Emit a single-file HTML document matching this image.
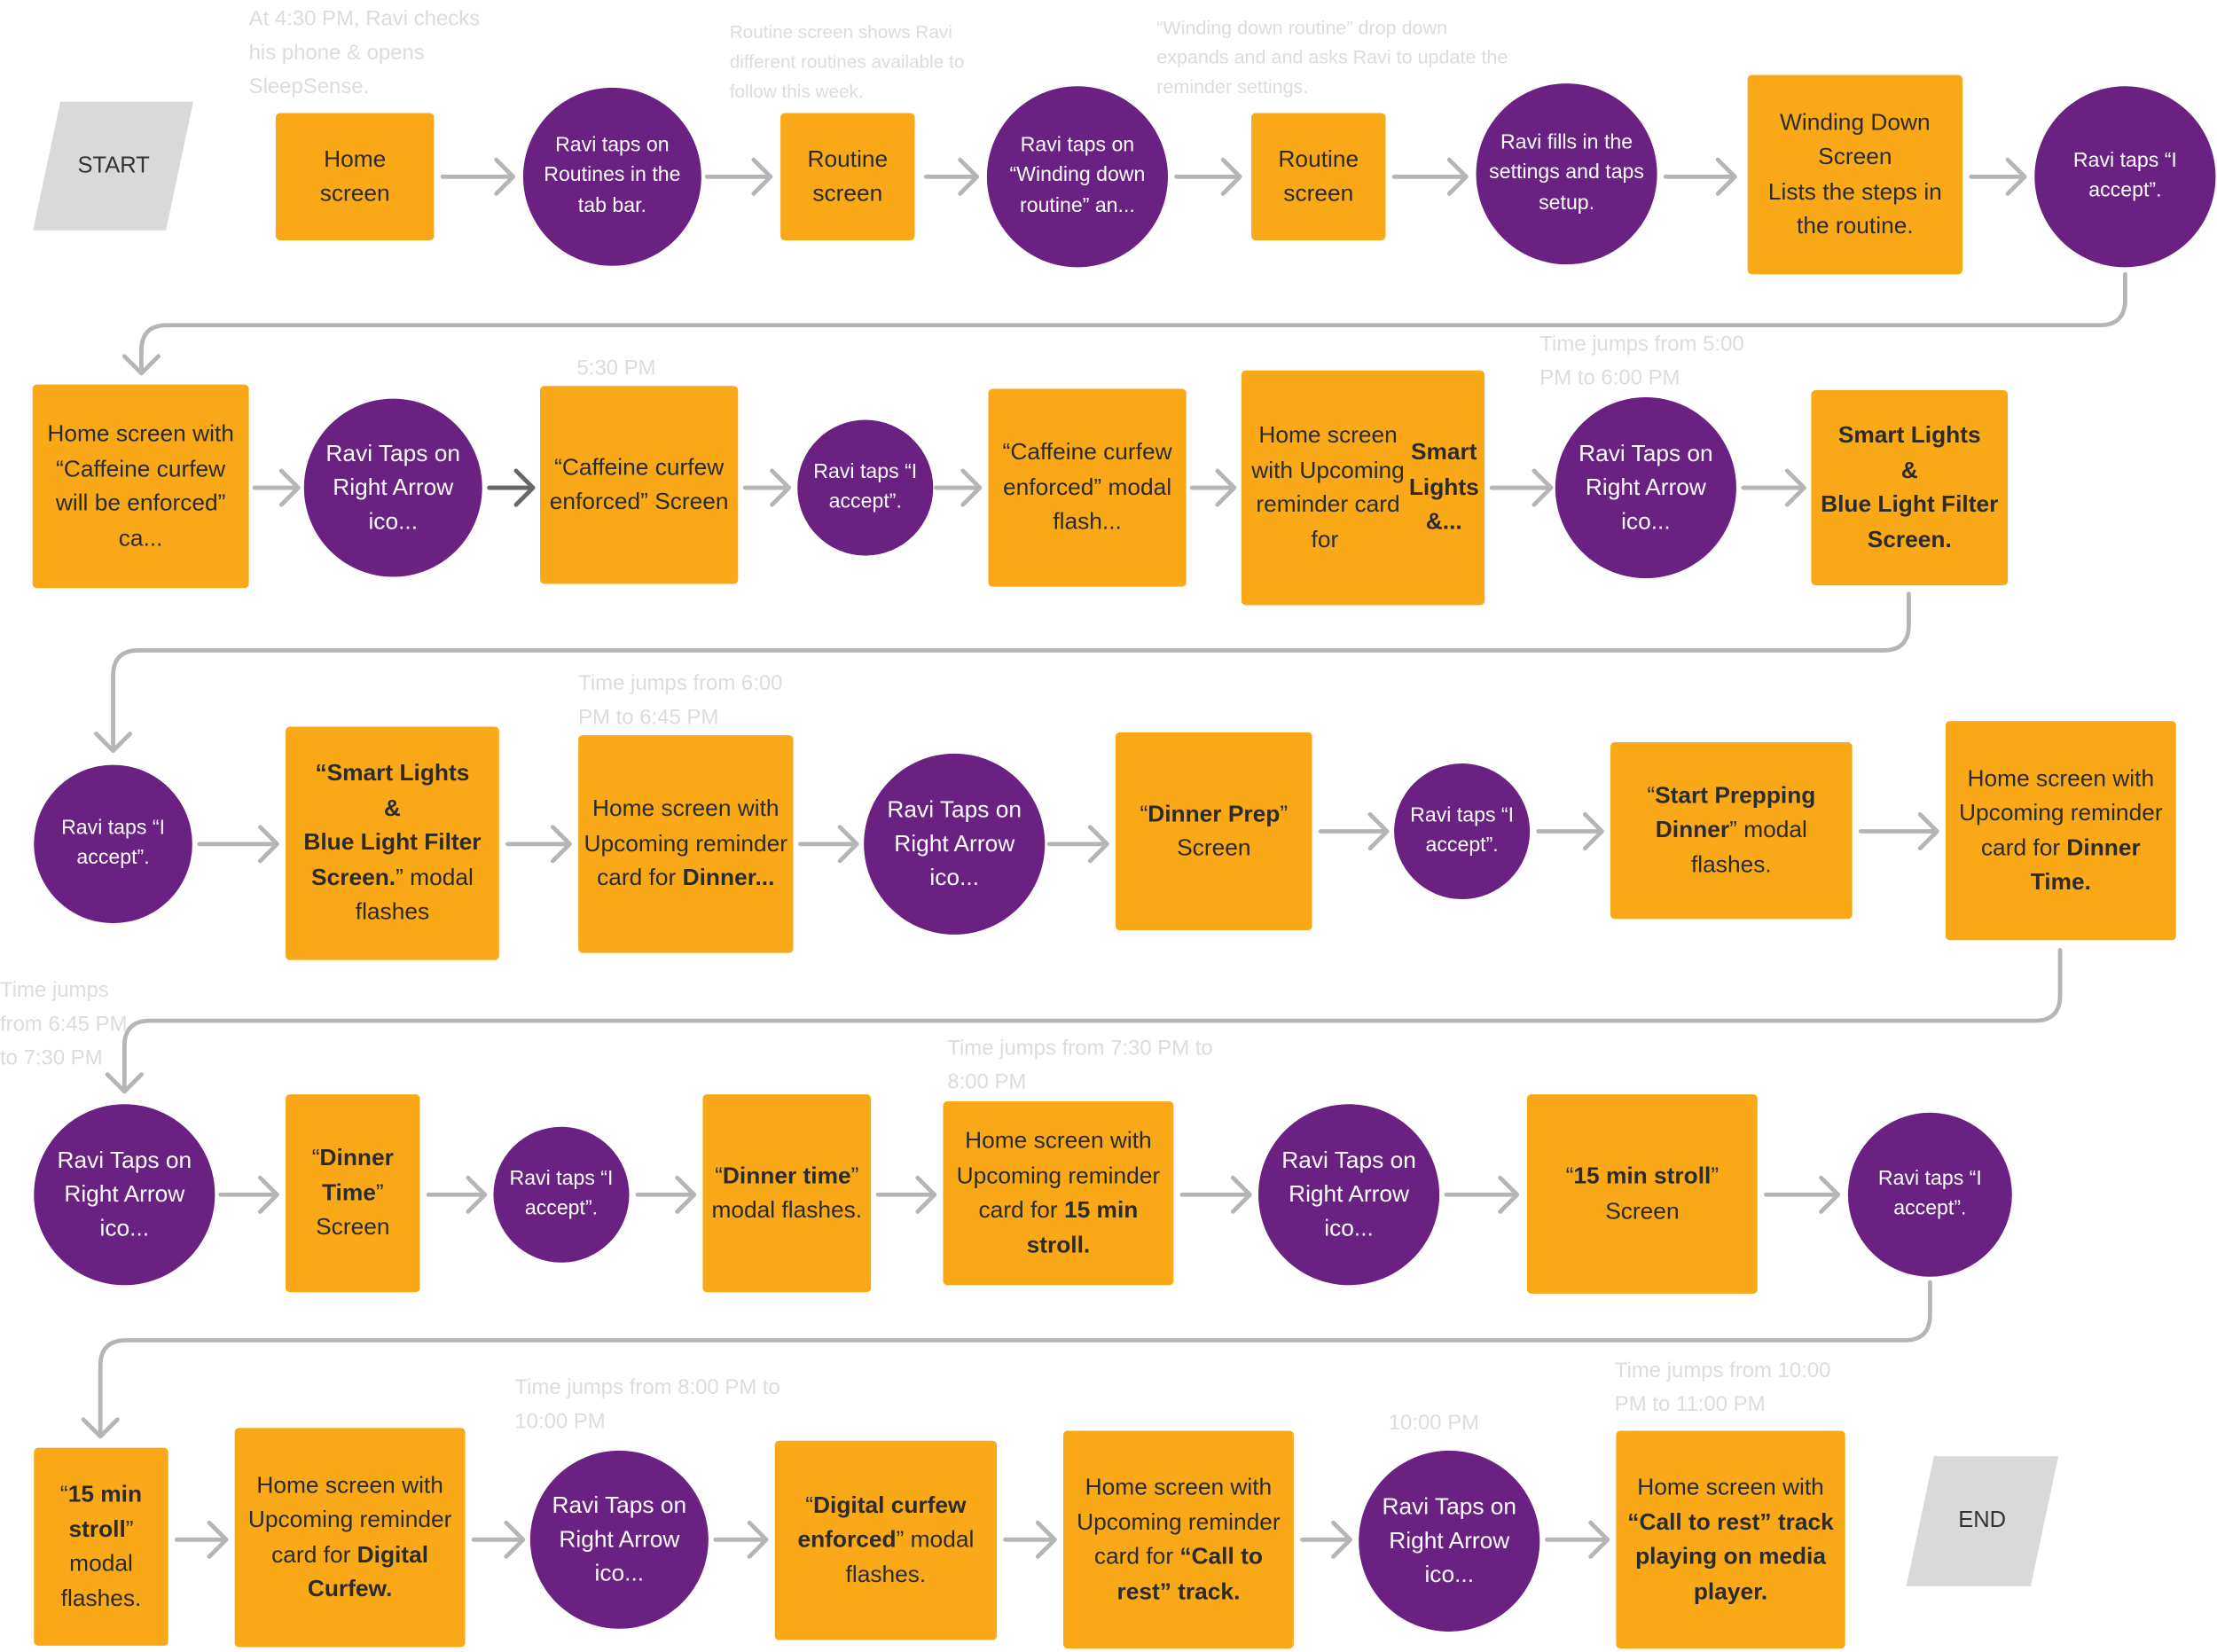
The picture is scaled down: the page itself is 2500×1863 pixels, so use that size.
<!DOCTYPE html>
<html><head><meta charset="utf-8"><style>
html,body{margin:0;padding:0;background:#fff;}
body{width:2500px;height:1863px;overflow:hidden;position:relative;}
#w{position:absolute;left:0;top:0;width:1568px;height:1168px;transform:scale(1.5944);transform-origin:0 0;font-family:"Liberation Sans",sans-serif;}
.r,.c,.p{position:absolute;display:flex;align-items:center;justify-content:center;text-align:center;box-sizing:border-box;}
.r{background:#F9A818;color:#2b2b2b;font-size:16.5px;line-height:24.5px;border-radius:3px;padding:4px;}
.c{background:#6A2181;color:#fff;border-radius:50%;font-size:16.5px;line-height:24px;padding:8px;}
.c.s{font-size:14.5px;line-height:21.5px;}
.p{background:#D9D9D9;color:#333;font-size:16px;transform:skewX(-12deg);}
.p span{transform:skewX(12deg);}
.a{position:absolute;color:#dcdcdc;font-size:15px;line-height:24px;}
svg{position:absolute;left:0;top:0;}
</style></head><body><div id="w">
<svg width="1568" height="1168" viewBox="0 0 1568 1168" fill="none" stroke="#B5B5B5" stroke-width="3" stroke-linecap="round" stroke-linejoin="round">
<g id="ar">
<!-- row1 -->
<path d="M313 125H363M351 113L363 125L351 137"/>
<path d="M500 125H545M533 113L545 125L533 137"/>
<path d="M655 125H691M679 113L691 125L679 137"/>
<path d="M832 125H877M865 113L877 125L865 137"/>
<path d="M986 125H1037M1025 113L1037 125L1025 137"/>
<path d="M1178 125H1227M1215 113L1227 125L1215 137"/>
<path d="M1394 125H1432M1420 113L1432 125L1420 137"/>
<path d="M1503 194V212Q1503 230 1485 230H118Q100 230 100 248V264M88 252L100 264L112 252"/>
<!-- row2 -->
<path d="M180 345H211M199 333L211 345L199 357"/>
<path d="M346 345H377M365 333L377 345L365 357" stroke="#666"/>
<path d="M527 345H558M546 333L558 345L546 357"/>
<path d="M662 345H693M681 333L693 345L681 357"/>
<path d="M843 345H873M861 333L873 345L861 357"/>
<path d="M1055 345H1097M1085 333L1097 345L1085 357"/>
<path d="M1233 345H1276M1264 333L1276 345L1264 357"/>
<path d="M1350 420V442Q1350 460 1332 460H98Q80 460 80 478V531M68 519L80 531L92 519"/>
<!-- row3 -->
<path d="M141 597H196M184 585L196 597L184 609"/>
<path d="M359 597H403M391 585L403 597L391 609"/>
<path d="M566 597H606M594 585L606 597L594 609"/>
<path d="M742 597H783M771 585L783 597L771 609"/>
<path d="M934 588H981M969 576L981 588L969 600"/>
<path d="M1088 588H1133M1121 576L1133 588L1121 600"/>
<path d="M1316 588H1370M1358 576L1370 588L1358 600"/>
<path d="M1457 672V704Q1457 722 1439 722H106Q88 722 88 740V772M76 760L88 772L100 760"/>
<!-- row4 -->
<path d="M156 845H196M184 833L196 845L184 857"/>
<path d="M303 845H343M331 833L343 845L331 857"/>
<path d="M451 845H491M479 833L491 845L479 857"/>
<path d="M621 845H661M649 833L661 845L649 857"/>
<path d="M836 845H884M872 833L884 845L872 857"/>
<path d="M1023 845H1073M1061 833L1073 845L1061 857"/>
<path d="M1249 845H1300M1288 833L1300 845L1288 857"/>
<path d="M1365 907V930Q1365 948 1347 948H89Q71 948 71 966V1016M59 1004L71 1016L83 1004"/>
<!-- row5 -->
<path d="M125 1089H160M148 1077L160 1089L148 1101"/>
<path d="M335 1089H370M358 1077L370 1089L358 1101"/>
<path d="M506 1089H542M530 1077L542 1089L530 1101"/>
<path d="M711 1089H746M734 1077L746 1089L734 1101"/>
<path d="M921 1089H955M943 1077L955 1089L943 1101"/>
<path d="M1094 1089H1137M1125 1077L1137 1089L1125 1101"/>
</g>
</svg>

<!-- annotations -->
<div class="a" style="left:176px;top:2px;width:170px">At 4:30 PM, Ravi checks his phone &amp; opens SleepSense.</div>
<div class="a" style="left:516px;top:12px;width:200px;font-size:13px;line-height:21px">Routine screen shows Ravi different routines available to follow this week.</div>
<div class="a" style="left:818px;top:9px;width:250px;font-size:13.5px;line-height:21px">“Winding down routine” drop down expands and and asks Ravi to update the reminder settings.</div>
<div class="a" style="left:408px;top:249px">5:30 PM</div>
<div class="a" style="left:1089px;top:232px;width:160px">Time jumps from 5:00 PM to 6:00 PM</div>
<div class="a" style="left:409px;top:472px;width:160px">Time jumps from 6:00 PM to 6:45 PM</div>
<div class="a" style="left:0px;top:689px;width:100px">Time jumps from 6:45 PM to 7:30 PM</div>
<div class="a" style="left:670px;top:730px;width:190px">Time jumps from 7:30 PM to 8:00 PM</div>
<div class="a" style="left:364px;top:970px;width:190px">Time jumps from 8:00 PM to 10:00 PM</div>
<div class="a" style="left:982px;top:995px">10:00 PM</div>
<div class="a" style="left:1142px;top:958px;width:170px">Time jumps from 10:00 PM to 11:00 PM</div>

<!-- row1 -->
<div class="p" style="left:33px;top:72px;width:94px;height:91px"><span>START</span></div>
<div class="r" style="left:195px;top:80px;width:112px;height:90px">Home<br>screen</div>
<div class="c s" style="left:370px;top:62px;width:126px;height:126px">Ravi taps on Routines in the tab bar.</div>
<div class="r" style="left:552px;top:80px;width:95px;height:90px">Routine<br>screen</div>
<div class="c s" style="left:698px;top:61px;width:128px;height:128px">Ravi taps on “Winding down routine” an...</div>
<div class="r" style="left:885px;top:80px;width:95px;height:90px">Routine<br>screen</div>
<div class="c s" style="left:1044px;top:59px;width:128px;height:128px">Ravi fills in the settings and taps setup.</div>
<div class="r" style="left:1236px;top:53px;width:152px;height:141px">Winding Down Screen<br>Lists the steps in the routine.</div>
<div class="c s" style="left:1439px;top:61px;width:128px;height:128px">Ravi taps “I accept”.</div>

<!-- row2 -->
<div class="r" style="left:23px;top:272px;width:153px;height:144px">Home screen with “Caffeine curfew will be enforced” ca...</div>
<div class="c" style="left:215px;top:282px;width:126px;height:126px">Ravi Taps on Right Arrow ico...</div>
<div class="r" style="left:382px;top:273px;width:140px;height:140px">“Caffeine curfew enforced” Screen</div>
<div class="c s" style="left:564px;top:297px;width:96px;height:96px;padding:4px">Ravi taps “I accept”.</div>
<div class="r" style="left:699px;top:275px;width:140px;height:140px">“Caffeine curfew enforced” modal flash...</div>
<div class="r" style="left:878px;top:262px;width:172px;height:166px">Home screen with Upcoming reminder card for&nbsp;<b>Smart Lights &amp;...</b></div>
<div class="c" style="left:1100px;top:281px;width:128px;height:128px">Ravi Taps on Right Arrow ico...</div>
<div class="r" style="left:1281px;top:276px;width:139px;height:138px"><b>Smart Lights<br>&amp;<br>Blue Light Filter Screen.</b></div>

<!-- row3 -->
<div class="c s" style="left:24px;top:541px;width:112px;height:112px">Ravi taps “I accept”.</div>
<div class="r" style="left:202px;top:514px;width:151px;height:165px"><span><b>“Smart Lights<br>&amp;<br>Blue Light Filter Screen.</b>” modal flashes</span></div>
<div class="r" style="left:409px;top:520px;width:152px;height:154px"><span>Home screen with Upcoming reminder card for <b>Dinner...</b></span></div>
<div class="c" style="left:611px;top:533px;width:128px;height:128px">Ravi Taps on Right Arrow ico...</div>
<div class="r" style="left:789px;top:518px;width:139px;height:140px"><span>“<b>Dinner Prep</b>” Screen</span></div>
<div class="c s" style="left:986px;top:540px;width:96px;height:96px;padding:4px">Ravi taps “I accept”.</div>
<div class="r" style="left:1139px;top:525px;width:171px;height:125px"><span>“<b>Start Prepping Dinner</b>” modal flashes.</span></div>
<div class="r" style="left:1376px;top:510px;width:163px;height:155px"><span>Home screen with Upcoming reminder card for <b>Dinner Time.</b></span></div>

<!-- row4 -->
<div class="c" style="left:24px;top:781px;width:128px;height:128px">Ravi Taps on Right Arrow ico...</div>
<div class="r" style="left:202px;top:774px;width:95px;height:140px"><span>“<b>Dinner Time</b>” Screen</span></div>
<div class="c s" style="left:349px;top:797px;width:96px;height:96px;padding:4px">Ravi taps “I accept”.</div>
<div class="r" style="left:497px;top:774px;width:119px;height:140px"><span>“<b>Dinner time</b>” modal flashes.</span></div>
<div class="r" style="left:667px;top:779px;width:163px;height:130px"><span>Home screen with Upcoming reminder card for <b>15 min stroll.</b></span></div>
<div class="c" style="left:890px;top:781px;width:128px;height:128px">Ravi Taps on Right Arrow ico...</div>
<div class="r" style="left:1080px;top:774px;width:163px;height:141px"><span>“<b>15 min stroll</b>” Screen</span></div>
<div class="c s" style="left:1307px;top:787px;width:116px;height:116px">Ravi taps “I accept”.</div>

<!-- row5 -->
<div class="r" style="left:24px;top:1024px;width:95px;height:140px"><span>“<b>15 min stroll</b>” modal flashes.</span></div>
<div class="r" style="left:166px;top:1010px;width:163px;height:155px"><span>Home screen with Upcoming reminder card for <b>Digital Curfew.</b></span></div>
<div class="c" style="left:375px;top:1026px;width:126px;height:126px">Ravi Taps on Right Arrow ico...</div>
<div class="r" style="left:548px;top:1019px;width:157px;height:141px"><span>“<b>Digital curfew enforced</b>” modal flashes.</span></div>
<div class="r" style="left:752px;top:1012px;width:163px;height:154px"><span>Home screen with Upcoming reminder card for <b>“Call to rest” track.</b></span></div>
<div class="c" style="left:961px;top:1026px;width:128px;height:128px">Ravi Taps on Right Arrow ico...</div>
<div class="r" style="left:1143px;top:1012px;width:162px;height:154px"><span>Home screen with <b>“Call to rest” track playing on media player.</b></span></div>
<div class="p" style="left:1358px;top:1030px;width:88px;height:92px"><span>END</span></div>
</div></body></html>
